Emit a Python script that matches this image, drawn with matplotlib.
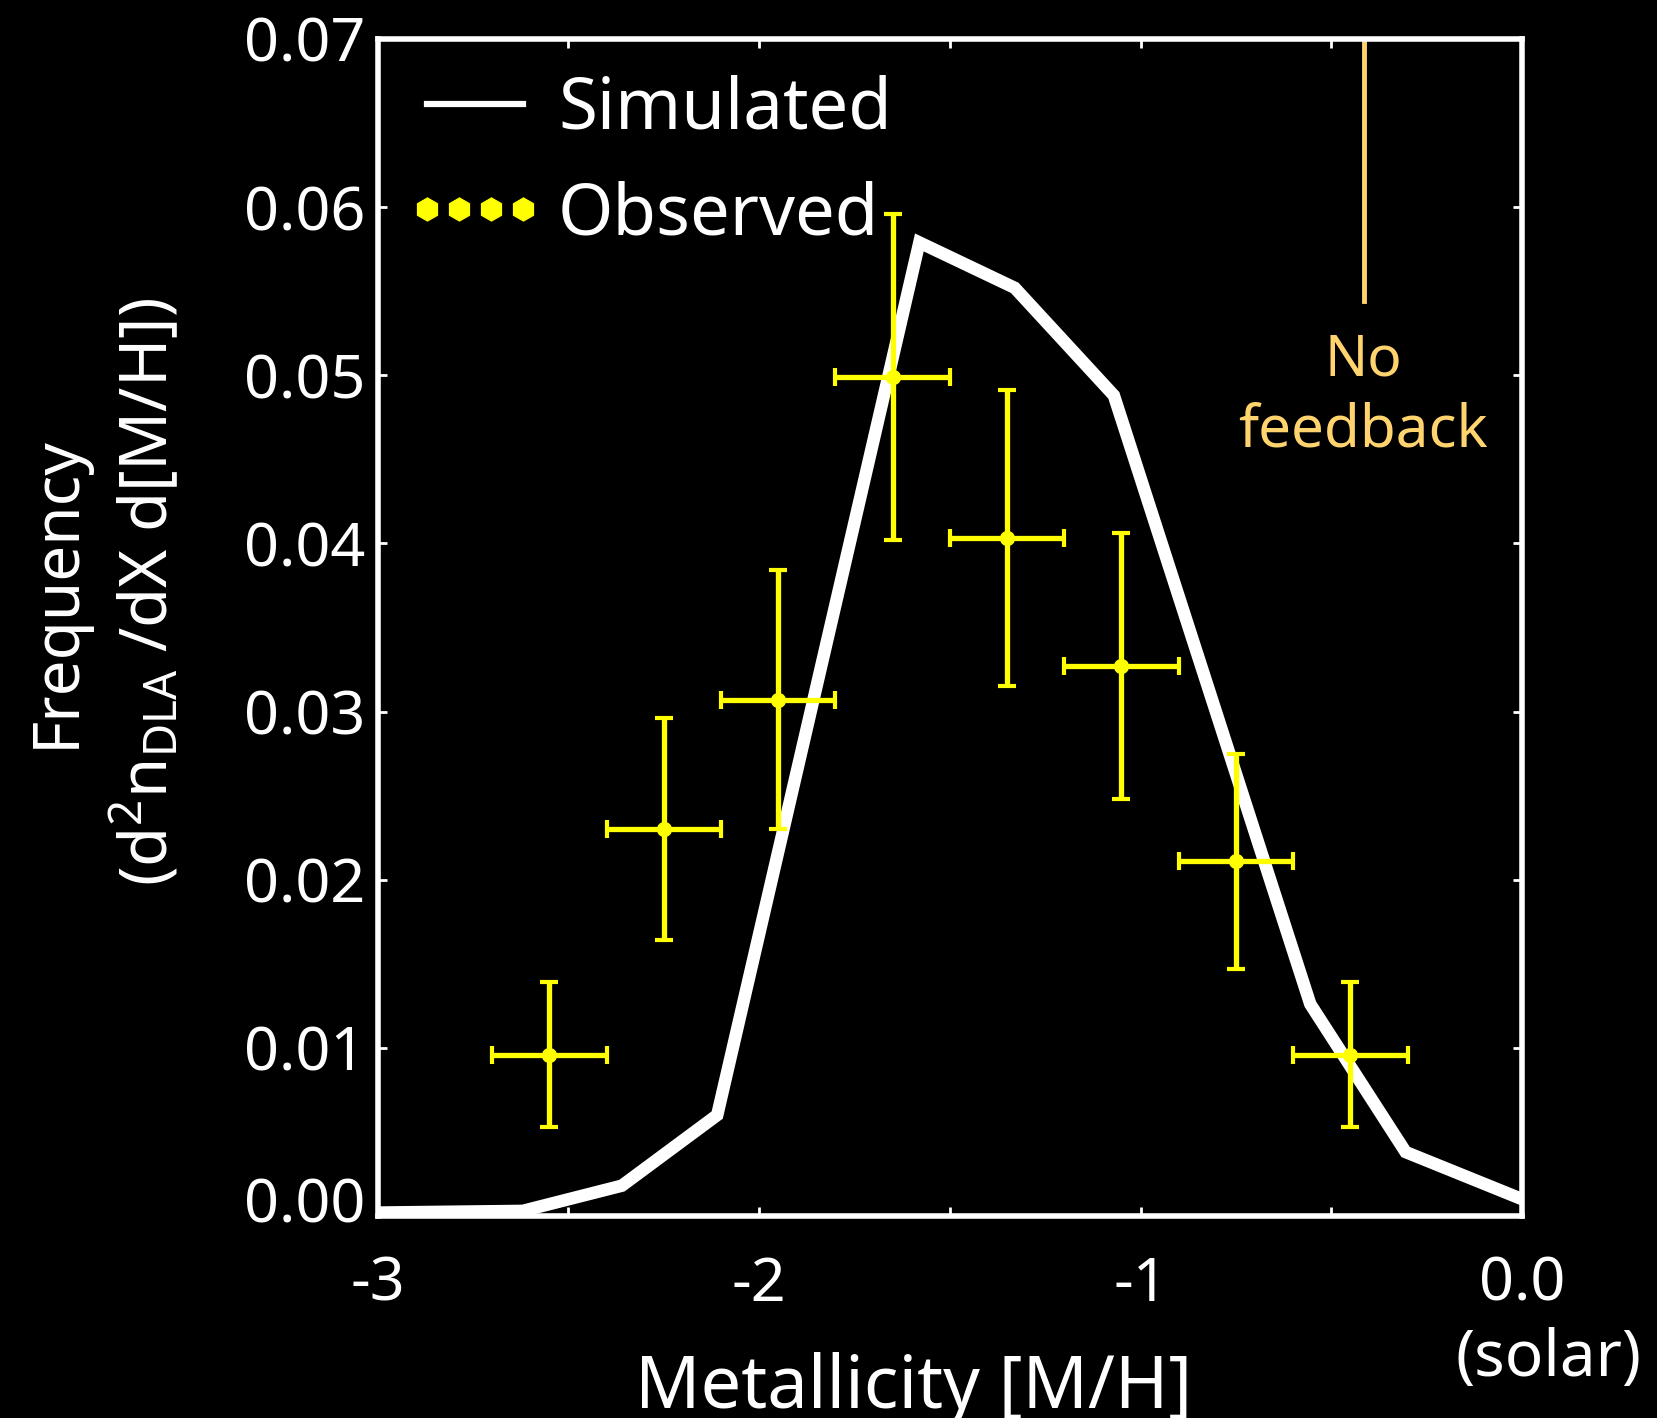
import numpy as np
import matplotlib
matplotlib.use("Agg")
import matplotlib.pyplot as plt
from matplotlib.lines import Line2D
from matplotlib.transforms import ScaledTranslation

plt.rcParams['font.family'] = ['Noto Sans', 'DejaVu Sans']
plt.rcParams['mathtext.fontset'] = 'custom'
plt.rcParams['mathtext.rm'] = 'Noto Sans'
plt.rcParams['mathtext.it'] = 'Noto Sans'

# ---------------- data ----------------
sim_x = [-3.0, -2.62, -2.36, -2.11, -1.58, -1.33, -1.07, -0.555, -0.305, 0.0]
sim_y = [0.0002, 0.0003, 0.0018, 0.0060, 0.0579, 0.0552, 0.0488, 0.0126, 0.0038, 0.0010]

obs_x = [-2.55, -2.25, -1.95, -1.65, -1.35, -1.05, -0.75, -0.45]
obs_y = [0.0096, 0.0230, 0.0307, 0.0499, 0.0403, 0.0327, 0.0211, 0.0096]
obs_xerr = [0.15, 0.15, 0.15, 0.15, 0.15, 0.15, 0.15, 0.15]
obs_yerr = [0.0043, 0.0066, 0.0077, 0.0097, 0.0088, 0.0079, 0.0064, 0.0043]

x_ticks = [-3.0, -2.5, -2.0, -1.5, -1.0, -0.5, 0.0]
x_ticklabels = ['-3', '', '-2', '', '-1', '', '0.0']
y_ticks = [0.00, 0.01, 0.02, 0.03, 0.04, 0.05, 0.06, 0.07]
y_ticklabels = ['0.00', '0.01', '0.02', '0.03', '0.04', '0.05', '0.06', '0.07']

nofb_x = -0.413
nofb_y = [0.0544, 0.07]

# ---------------- figure ----------------
W, H = 1657, 1418
fig = plt.figure(figsize=(W / 100, H / 100), dpi=100, facecolor='black')
ax = fig.add_axes([0.228, 0.1425, 0.6905, 0.83])
ax.set_facecolor('black')

WHITE = 'white'
YEL = '#FFFF00'
GOLD = '#FFD36E'

ax.plot(sim_x, sim_y, color=WHITE, lw=9, solid_joinstyle='miter', zorder=2)
ax.errorbar(obs_x, obs_y, xerr=obs_xerr, yerr=obs_yerr, fmt='o', color=YEL,
            ms=10, elinewidth=3.8, capsize=6.5, capthick=3, zorder=3)

ax.plot([nofb_x, nofb_x], nofb_y, color=GOLD, lw=3.5, zorder=2, clip_on=False)
ax.text(0.861, 0.7145, 'No', transform=ax.transAxes, ha='center', va='baseline',
        color=GOLD, fontsize=41)
ax.text(0.861, 0.654, 'feedback', transform=ax.transAxes, ha='center', va='baseline',
        color=GOLD, fontsize=42)

ax.set_xlim(-3, 0)
ax.set_ylim(0, 0.07)
ax.set_xticks(x_ticks)
ax.set_xticklabels(x_ticklabels)
ax.set_yticks(y_ticks)
ax.set_yticklabels(y_ticklabels)
ax.tick_params(axis='both', which='both', direction='in', top=True, right=True,
               length=6.5, width=2, color=WHITE, labelcolor=WHITE, labelsize=44)
ax.tick_params(axis='x', pad=28)
ax.tick_params(axis='y', pad=9)
for s in ax.spines.values():
    s.set_color(WHITE)
    s.set_linewidth(4)

# lift the "0.00" label a little, as in the reference
lbl0 = ax.get_yticklabels()[0]
lbl0.set_transform(lbl0.get_transform() + ScaledTranslation(0, 0.16, fig.dpi_scale_trans))

# axis labels
fig.text(914 / W, 0.007, 'Metallicity [M/H]', ha='center', va='baseline',
         color=WHITE, fontsize=52)
fig.text(1548 / W, 0.0296, '(solar)', ha='center', va='baseline',
         color=WHITE, fontsize=46)
fig.text(0.0447, 1 - 592 / H, 'Frequency', rotation=90, rotation_mode='anchor',
         ha='center', va='baseline', color=WHITE, fontsize=46)
fig.text(0.1008, 1 - 592 / H, r'(d$^{2}$n$_{\mathrm{DLA}}$ /dX d[M/H])', rotation=90,
         rotation_mode='anchor', ha='center', va='baseline', color=WHITE, fontsize=47)

# legend
handles = [Line2D([], [], color=WHITE, lw=4.5),
           Line2D([], [], color=YEL, marker='h', ls='none', ms=16.5)]
leg = ax.legend(handles, ['Simulated', 'Observed'], loc='upper left',
                bbox_to_anchor=(0.0245, 0.970), borderaxespad=0, borderpad=0,
                frameon=False, numpoints=4, handlelength=1.95, handletextpad=0.2,
                labelspacing=0.49, fontsize=51, labelcolor=WHITE)

fig.savefig('out.png', dpi=100, facecolor='black')
